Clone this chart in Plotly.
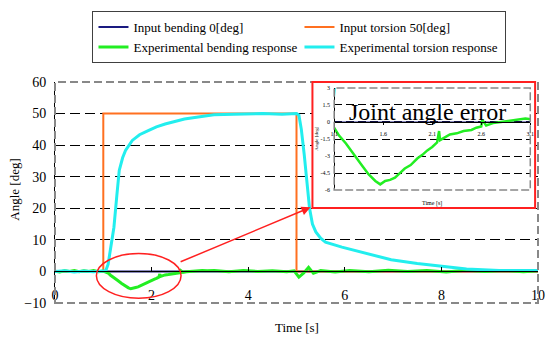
import plotly.graph_objects as go

# ---------------- data ----------------
t_bend_in = [0, 10]
bend_in = [0, 0]

t_tors_in = [0, 1.0, 1.0, 5.0, 5.0, 10]
tors_in = [0, 0, 50, 50, 0, 0]

t_bend = [0, 0.1, 0.2, 0.3, 0.4, 0.5, 0.6, 0.7, 0.8, 0.9, 1.0, 1.05, 1.1, 1.15,
          1.22, 1.3, 1.38, 1.45, 1.52, 1.57, 1.62, 1.67, 1.72, 1.77, 1.82, 1.88,
          1.95, 2.0, 2.05, 2.1, 2.15, 2.17, 2.18, 2.22, 2.28, 2.35, 2.42, 2.5,
          2.55, 2.6, 2.61, 2.65, 2.72, 2.8, 2.88, 2.95, 3.05, 3.15, 3.3, 3.6,
          3.9, 4.2, 4.5, 4.8, 4.95, 5.05, 5.15, 5.25, 5.35, 5.5, 5.8, 6.1, 6.5,
          6.9, 7.3, 7.7, 8.1, 8.5, 8.9, 9.3, 9.7, 10]
bend_resp = [0.1, -0.2, 0.2, 0.0, 0.3, -0.1, 0.2, 0.0, 0.3, -0.1, 0.1, -0.1,
             -0.5, -1.2, -1.9, -2.9, -3.8, -4.6, -5.2, -5.5, -5.2, -5.1, -4.9,
             -4.5, -4.1, -3.8, -3.2, -2.9, -2.5, -2.2, -1.8, -0.8, -1.6, -1.4,
             -1.1, -1.0, -0.8, -0.7, -0.5, -0.4, 0.2, -0.3, -0.1, 0.0, 0.1, 0.2,
             0.3, 0.2, 0.3, -0.1, 0.3, 0.0, 0.2, -0.1, 0.2, -1.8, -0.5, 1.3,
             -0.6, 0.3, -0.2, 0.3, -0.1, 0.4, 0.0, 0.3, -0.2, 0.4, 0.0, 0.3,
             -0.1, 0.2]

t_tors = [0, 0.2, 0.4, 0.6, 0.8, 1.0, 1.05, 1.1, 1.15, 1.22, 1.28, 1.33, 1.4,
          1.46, 1.6, 1.75, 1.93, 2.1, 2.28, 2.5, 2.68, 3.0, 3.29, 3.7, 4.3,
          4.7, 5.0, 5.05, 5.1, 5.16, 5.22, 5.27, 5.33, 5.4, 5.5, 5.6, 5.94,
          6.48, 6.96, 7.5, 7.98, 8.52, 9.2, 9.9, 10]
tors_resp = [0.0, 0.2, -0.2, 0.1, -0.1, 0.0, 0.2, 2.3, 7.0, 14.0, 24.0, 32.0,
             36.0, 38.3, 41.5, 43.3, 44.6, 45.8, 46.7, 47.6, 48.3, 49.0, 49.6,
             49.8, 50.0, 49.8, 50.0, 49.5, 45.0, 37.0, 28.0, 20.0, 15.0, 12.5,
             10.5, 9.3, 7.7, 5.6, 3.7, 2.5, 1.6, 0.8, 0.3, 0.2, 0.3]

y_ticks = [-10, 0, 10, 20, 30, 40, 50, 60]
x_ticks = [0, 2, 4, 6, 8, 10]
inset_x_ticks = [1.1, 1.6, 2.1, 2.6, 3.1]
inset_y_ticks = [-6, -4.5, -3, -1.5, 0, 1.5, 3]

FONT = "Liberation Serif"

fig = go.Figure()

# main traces
fig.add_trace(go.Scatter(x=t_bend_in, y=bend_in, mode="lines", name="Input bending 0[deg]",
                         line=dict(color="#1a1a80", width=2)))
fig.add_trace(go.Scatter(x=t_tors_in, y=tors_in, mode="lines", name="Input torsion 50[deg]",
                         line=dict(color="#ff7020", width=2)))
fig.add_trace(go.Scatter(x=t_bend, y=bend_resp, mode="lines", name="Experimental bending response",
                         line=dict(color="#22ee22", width=3)))
fig.add_trace(go.Scatter(x=t_tors, y=tors_resp, mode="lines", name="Experimental torsion response",
                         line=dict(color="#22eeee", width=3)))

# inset traces (same data, zoomed)
fig.add_trace(go.Scatter(x=t_bend_in, y=bend_in, mode="lines", showlegend=False,
                         line=dict(color="#1a1a80", width=1.2), xaxis="x2", yaxis="y2"))
fig.add_trace(go.Scatter(x=t_bend, y=bend_resp, mode="lines", showlegend=False,
                         line=dict(color="#22ee22", width=2.5), xaxis="x2", yaxis="y2"))
fig.add_trace(go.Scatter(x=t_tors, y=tors_resp, mode="lines", showlegend=False,
                         line=dict(color="#22eeee", width=2), xaxis="x2", yaxis="y2"))

fig.update_layout(
    width=548, height=338,
    margin=dict(l=55, r=3, t=82, b=35),
    paper_bgcolor="white", plot_bgcolor="white",
    font=dict(family=FONT, size=13, color="black"),
    legend=dict(orientation="h", x=0.0776, y=1.321, xanchor="left", yanchor="top",
                bordercolor="#404040", borderwidth=1, entrywidth=161,
                font=dict(family=FONT, size=13), tracegroupgap=0, itemwidth=30),
    xaxis=dict(range=[0, 10], anchor="free", position=0.1429, showgrid=False,
               zeroline=False, showline=True, linecolor="black", linewidth=1,
               ticks="inside", ticklen=4, tickcolor="black", tickvals=x_ticks,
               ticklabelstandoff=11, tickfont=dict(size=14)),
    yaxis=dict(range=[-10, 60], tickvals=y_ticks, showgrid=True, gridcolor="black",
               griddash="10px,5px", gridwidth=1, zeroline=False, showline=True,
               linecolor="black", linewidth=1, ticks="", ticklabelstandoff=5,
               tickfont=dict(size=14)),
    xaxis2=dict(domain=[0.578, 0.984], range=[1.1, 3.1], anchor="free", position=0.819,
                showgrid=False, zeroline=False, showline=True, linecolor="black",
                linewidth=1, ticks="outside", ticklen=2, tickcolor="black",
                tickvals=inset_x_ticks, ticktext=[str(v) for v in inset_x_ticks],
                ticklabelstandoff=4, tickfont=dict(size=6)),
    yaxis2=dict(domain=[0.511, 0.973], range=[-6, 3], anchor="free", position=0.578,
                tickvals=inset_y_ticks, ticktext=[str(v).replace(".0", "") for v in inset_y_ticks],
                showgrid=True, gridcolor="black", griddash="8px,4px", gridwidth=1,
                zeroline=False, showline=True, linecolor="black", linewidth=1,
                ticks="", ticklabelstandoff=3, tickfont=dict(size=6)),
)

shapes = [
    # white background of the inset box (covers main grid, below main traces)
    dict(type="rect", xref="x", yref="y", x0=5.33, x1=9.94, y0=20, y1=60,
         fillcolor="white", line=dict(width=0), layer="between"),
    # main plot border
    dict(type="rect", xref="x domain", yref="y domain", x0=0, x1=1, y0=0, y1=1,
         line=dict(color="#888888", width=2, dash="8px,4px"), layer="above"),
    # inset plot border
    dict(type="rect", xref="x2 domain", yref="y2 domain", x0=0, x1=1, y0=0, y1=1,
         line=dict(color="#888888", width=1.5, dash="8px,3px"), layer="above"),
    # red inset frame
    dict(type="rect", xref="paper", yref="paper", x0=0.533, x1=0.994, y0=0.43, y1=1.0,
         line=dict(color="#ff2020", width=2), fillcolor="rgba(0,0,0,0)", layer="above"),
    # red ellipse
    dict(type="circle", xref="x", yref="y", x0=0.857, x1=2.61, y0=-8.5, y1=5.7,
         line=dict(color="#ff2020", width=1.5), layer="above"),
]
fig.update_layout(shapes=shapes)

C = dict(xanchor="center", yanchor="middle", showarrow=False)
annotations = [
    dict(text="Angle [deg]", xref="paper", yref="paper", x=-0.0857, y=0.511,
         textangle=-90, font=dict(size=13), **C),
    dict(text="Time [s]", xref="paper", yref="paper", x=0.5, y=-0.1086,
         font=dict(size=13), **C),
    dict(text="Joint angle error", xref="paper", yref="paper", x=0.771, y=0.866,
         font=dict(size=24), **C),
    dict(text="Time [s]", xref="paper", yref="paper", x=0.7796, y=0.452,
         font=dict(size=6), **C),
    dict(text="Angle [deg]", xref="paper", yref="paper", x=0.541, y=0.745,
         textangle=-90, font=dict(size=5), **C),
    dict(text="", x=5.29, y=20.3, xref="x", yref="y", ax=2.57, ay=2.85,
         axref="x", ayref="y", showarrow=True, arrowhead=2, arrowsize=1.2,
         arrowwidth=1.5, arrowcolor="#ff2020"),
]
fig.update_layout(annotations=annotations)

fig.write_html("out.html")
